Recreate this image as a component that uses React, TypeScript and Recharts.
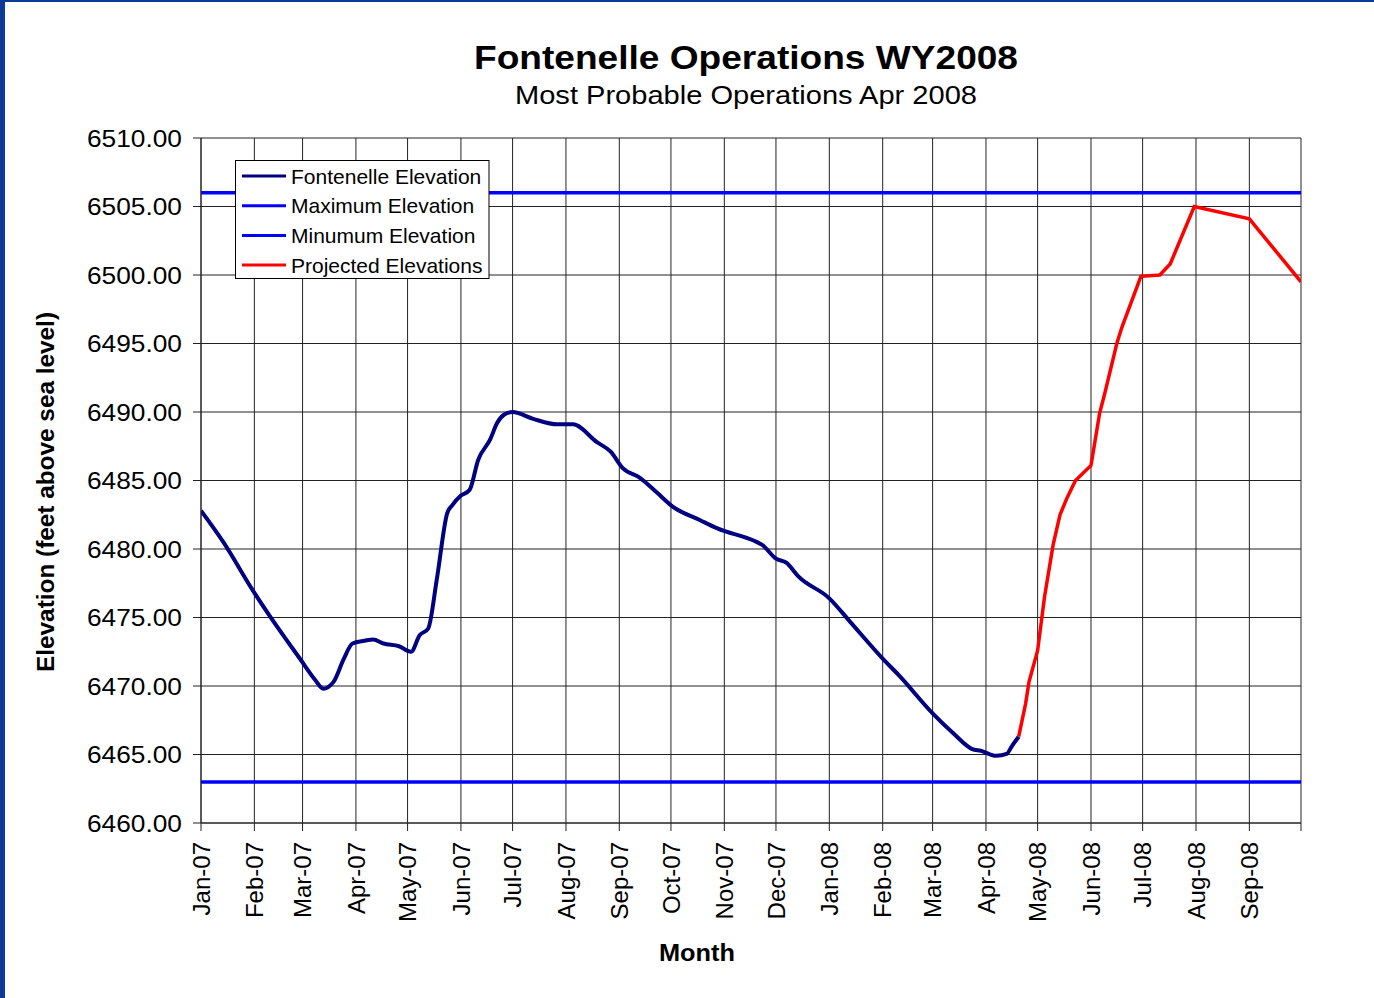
import React from 'react';
import { LineChart, Line, XAxis, YAxis, CartesianGrid } from 'recharts';

// Days since 1 Jan 2007
const monthTicks = [0, 31, 59, 90, 120, 151, 181, 212, 243, 273, 304, 334, 365, 396, 425, 456, 486, 517, 547, 578, 609, 639];
const monthLabels = ['Jan-07', 'Feb-07', 'Mar-07', 'Apr-07', 'May-07', 'Jun-07', 'Jul-07', 'Aug-07', 'Sep-07', 'Oct-07', 'Nov-07', 'Dec-07', 'Jan-08', 'Feb-08', 'Mar-08', 'Apr-08', 'May-08', 'Jun-08', 'Jul-08', 'Aug-08', 'Sep-08', ''];
const yTicks = [6460, 6465, 6470, 6475, 6480, 6485, 6490, 6495, 6500, 6505, 6510];

const fontenelleDays = [0, 13, 30, 40, 58, 66, 71, 77, 83, 88, 95, 100, 106, 115, 122, 127, 132, 137, 143, 146, 151, 156, 161, 168, 172, 176, 181, 193, 207, 216, 230, 238, 245, 255, 265, 274, 290, 300, 323, 326, 334, 340, 347, 365, 377, 396, 406, 425, 437, 448, 453, 462, 468, 471, 475];
const fontenelleValues = [6482.8, 6480.5, 6477.0, 6475.1, 6471.9, 6470.5, 6469.8, 6470.3, 6472.0, 6473.1, 6473.3, 6473.4, 6473.1, 6472.9, 6472.5, 6473.7, 6474.2, 6477.8, 6482.6, 6483.2, 6483.9, 6484.3, 6486.5, 6488.0, 6489.2, 6489.8, 6490.0, 6489.5, 6489.1, 6489.1, 6487.8, 6487.1, 6485.9, 6485.2, 6484.1, 6483.1, 6482.1, 6481.5, 6480.5, 6480.3, 6479.3, 6479.0, 6478.0, 6476.4, 6474.7, 6472.0, 6470.7, 6468.0, 6466.55, 6465.4, 6465.27, 6464.9, 6465.04, 6465.6, 6466.3];

const projectedDays = [475, 479, 481, 486, 490, 495, 499, 503, 508, 517, 522, 525, 532, 535, 546, 557, 563, 577, 609, 639];
const projectedValues = [6466.3, 6468.7, 6470.3, 6472.6, 6476.5, 6480.3, 6482.5, 6483.7, 6485.0, 6486.1, 6489.9, 6491.35, 6495.0, 6496.2, 6499.9, 6500.0, 6500.8, 6505.0, 6504.1, 6499.5];

const maxElevation = 6506;
const minElevation = 6463;
const rangeDays = [0, 639];

const seriesNames = ['Fontenelle Elevation', 'Maximum Elevation', 'Minumum Elevation', 'Projected Elevations'];
const seriesColors = ['#000080', '#0000ff', '#0000ff', '#ff0000'];

const fontenelleData = fontenelleDays.map((d, i) => ({ day: d, v: fontenelleValues[i] }));
const projectedData = projectedDays.map((d, i) => ({ day: d, v: projectedValues[i] }));
const maxData = rangeDays.map((d) => ({ day: d, v: maxElevation }));
const minData = rangeDays.map((d) => ({ day: d, v: minElevation }));

const FONT = '"Liberation Sans", Arial, sans-serif';

const YTick = (props: any) => {
  const { y, payload } = props;
  return (
    <text x={182} y={y} dy="0.36em" textAnchor="end" fontSize={24} fontFamily={FONT} fill="#000" textLength={95} lengthAdjust="spacingAndGlyphs">
      {Number(payload.value).toFixed(2)}
    </text>
  );
};

const XTick = (props: any) => {
  const { x, payload } = props;
  const idx = monthTicks.indexOf(payload.value);
  const label = idx >= 0 ? monthLabels[idx] : '';
  if (!label) return <g />;
  const ty = 842;
  return (
    <text x={x} y={ty} dy="0.36em" textAnchor="end" fontSize={24} fontFamily={FONT} fill="#000" transform={`rotate(-90, ${x}, ${ty})`}>
      {label}
    </text>
  );
};

export default function App() {
  return (
    <div style={{ position: 'absolute', left: 0, top: 0, width: 1374, height: 998, background: '#fff', overflow: 'hidden' }}>
      <LineChart width={1374} height={998} margin={{ top: 138, right: 73, bottom: 0, left: 0 }}>
        <CartesianGrid stroke="#222" strokeWidth={1} />
        <XAxis
          dataKey="day"
          type="number"
          domain={[0, 639]}
          ticks={monthTicks}
          interval={0}
          height={175}
          tickSize={8}
          stroke="#222"
          tick={<XTick />}
          allowDataOverflow
        />
        <YAxis
          type="number"
          domain={[6460, 6510]}
          ticks={yTicks}
          interval={0}
          width={201}
          tickSize={8}
          stroke="#222"
          tick={<YTick />}
          allowDataOverflow
        />
        <Line data={maxData} dataKey="v" stroke={seriesColors[1]} strokeWidth={3.5} dot={false} isAnimationActive={false} name={seriesNames[1]} />
        <Line data={minData} dataKey="v" stroke={seriesColors[2]} strokeWidth={3.5} dot={false} isAnimationActive={false} name={seriesNames[2]} />
        <Line data={fontenelleData} dataKey="v" type="monotone" stroke={seriesColors[0]} strokeWidth={4} dot={false} isAnimationActive={false} name={seriesNames[0]} />
        <Line data={projectedData} dataKey="v" stroke={seriesColors[3]} strokeWidth={3.5} dot={false} isAnimationActive={false} name={seriesNames[3]} />
      </LineChart>
      <svg width={1374} height={998} style={{ position: 'absolute', left: 0, top: 0, pointerEvents: 'none' }}>
        <rect x={0} y={0} width={5} height={998} fill="#0b3a97" />
        <rect x={0} y={0} width={1374} height={2} fill="#0b3a97" />
        <text x={746} y={69} textAnchor="middle" fontSize={34} fontWeight="bold" fontFamily={FONT} fill="#000" textLength={544} lengthAdjust="spacingAndGlyphs">
          Fontenelle Operations WY2008
        </text>
        <text x={746} y={104} textAnchor="middle" fontSize={26.5} fontFamily={FONT} fill="#000" textLength={462} lengthAdjust="spacingAndGlyphs">
          Most Probable Operations Apr 2008
        </text>
        <text x={697} y={961} textAnchor="middle" fontSize={24} fontWeight="bold" fontFamily={FONT} fill="#000" textLength={76} lengthAdjust="spacingAndGlyphs">
          Month
        </text>
        <text x={0} y={0} textAnchor="middle" fontSize={24} fontWeight="bold" fontFamily={FONT} fill="#000" transform="translate(54, 492) rotate(-90)" textLength={360} lengthAdjust="spacingAndGlyphs">
          Elevation (feet above sea level)
        </text>
        <rect x={235.5} y={160.5} width={253.5} height={118} fill="#fff" stroke="#000" strokeWidth={1} />
        {seriesNames.map((name, i) => {
          const cy = 176 + i * 29.7;
          return (
            <g key={name}>
              <line x1={242} x2={286} y1={cy} y2={cy} stroke={seriesColors[i]} strokeWidth={3} />
              <text x={291} y={cy} dy="0.36em" fontSize={21} fontFamily={FONT} fill="#000">
                {name}
              </text>
            </g>
          );
        })}
      </svg>
    </div>
  );
}
